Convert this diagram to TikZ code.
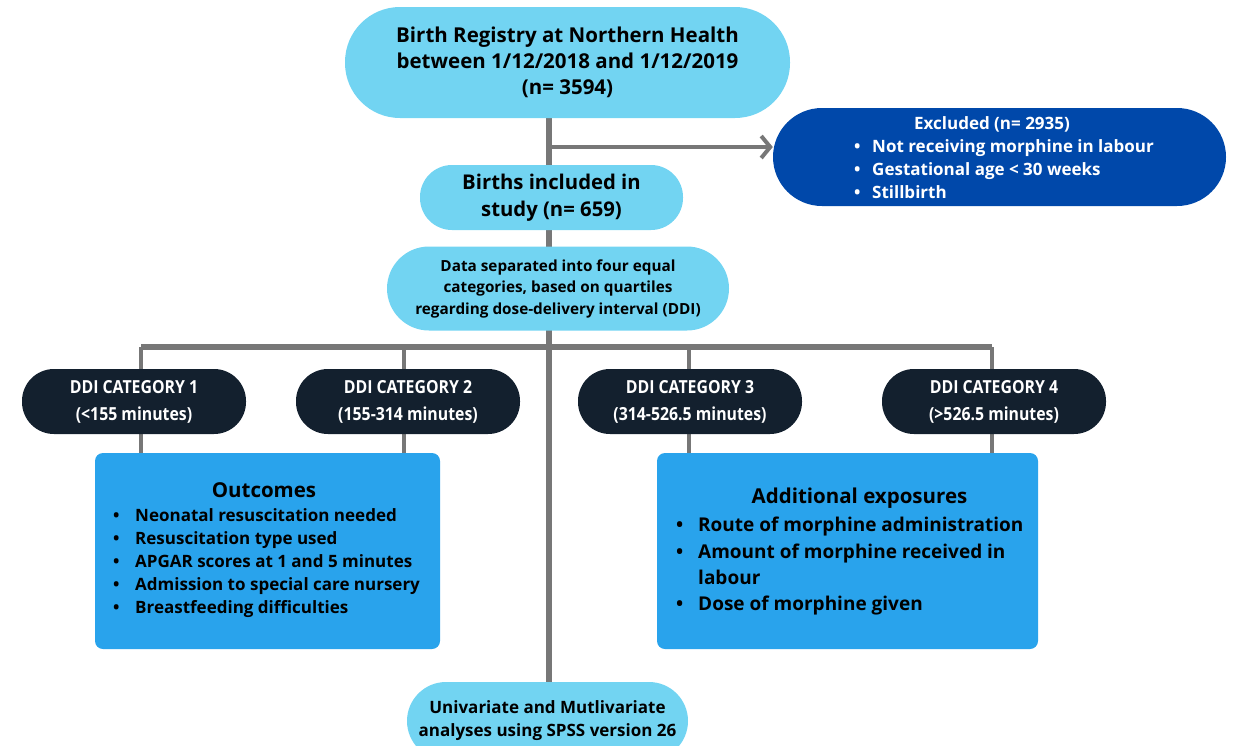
\documentclass[tikz,border=0pt]{standalone}
\usepackage{fontspec}
\setmainfont{Open Sans}
\newfontfamily\condfont[FakeStretch=0.88]{Open Sans}
\usetikzlibrary{arrows.meta}
\pgfdeclarelayer{background}
\pgfsetlayers{background,main}
\definecolor{lightblue}{HTML}{72D4F2}
\definecolor{midblue}{HTML}{29A3EC}
\definecolor{darkblue}{HTML}{0048AA}
\definecolor{navy}{HTML}{13202E}
\definecolor{linegray}{HTML}{777777}
\tikzset{
  pill/.style={fill=lightblue, draw=none, inner sep=0pt, align=center, text=black},
  catbox/.style={fill=navy, draw=none, inner sep=0pt, minimum width=224pt, minimum height=65pt, rounded corners=32pt, align=center, text=white, font=\condfont\bfseries\fontsize{18}{27}\selectfont},
  infobox/.style={fill=midblue, draw=none, rounded corners=8pt, inner sep=0pt},
  txt/.style={inner sep=0pt, align=left},
  conn/.style={draw=linegray, line width=4pt},
  trunk/.style={draw=linegray, line width=6.5pt},
}
\begin{document}
\begin{tikzpicture}[x=1pt,y=-1pt]
\useasboundingbox (0,0) rectangle (1233,745);
\node[pill, minimum width=445pt, minimum height=111pt, rounded corners=55pt, font=\bfseries\fontsize{20.5}{26}\selectfont] (top) at (567.5,62.5) {Birth Registry at Northern Health\\between 1/12/2018 and 1/12/2019\\(n= 3594)};
\node[pill, minimum width=281pt, minimum height=78pt, rounded corners=39pt, font=\bfseries\fontsize{17}{23}\selectfont] (final) at (547.5,721) {Univariate and Mutlivariate\\analyses using SPSS version 26};
\node[pill, minimum width=263pt, minimum height=65pt, rounded corners=32pt, font=\bfseries\fontsize{20.3}{27}\selectfont] (incl) at (551.5,197.5) {Births included in\\study (n= 659)};
\node[pill, minimum width=342pt, minimum height=84pt, rounded corners=42pt, font=\bfseries\fontsize{15.3}{21.5}\selectfont] (data) at (558,288.5) {Data separated into four equal\\categories, based on quartiles\\regarding dose-delivery interval (DDI)};
\coordinate (j1) at (549,147);
% excluded
\node[fill=darkblue, draw=none, inner sep=0pt, minimum width=453pt, minimum height=98pt, rounded corners=49pt] (excl) at (999.5,157) {};
\node[txt, text=white, font=\bfseries\fontsize{17}{23}\selectfont] (exclh) at (992,124.5) {Excluded (n= 2935)};
\node[txt, text=white, anchor=north west, font=\bfseries\fontsize{17}{22.7}\selectfont] (exclb) at (854,139.5) {\makebox[18pt][l]{•}Not receiving morphine in labour\\\makebox[18pt][l]{•}Gestational age < 30 weeks\\\makebox[18pt][l]{•}Stillbirth};
% categories
\node[catbox] (c1) at (134,401.5) {DDI CATEGORY 1\\(<155 minutes)};
\node[catbox] (c2) at (408,401.5) {DDI CATEGORY 2\\(155-314 minutes)};
\node[catbox] (c3) at (690,401.5) {DDI CATEGORY 3\\(314-526.5 minutes)};
\node[catbox] (c4) at (994,401.5) {DDI CATEGORY 4\\(>526.5 minutes)};
\coordinate (b1) at (141,347);
\coordinate (b2) at (404,347);
\coordinate (b3) at (689,347);
\coordinate (b4) at (992,347);
% info boxes
\node[infobox, minimum width=345pt, minimum height=196pt] (outc) at (267.5,551) {};
\node[infobox, minimum width=381pt, minimum height=196pt] (expo) at (847.5,551) {};
\node[txt, font=\bfseries\fontsize{20.5}{23}\selectfont] (outh) at (264,490) {Outcomes};
\node[txt, anchor=north west, font=\bfseries\fontsize{17}{23}\selectfont] (outb) at (113,508) {\makebox[22pt][l]{•}Neonatal resuscitation needed\\\makebox[22pt][l]{•}Resuscitation type used\\\makebox[22pt][l]{•}APGAR scores at 1 and 5 minutes\\\makebox[22pt][l]{•}Admission to special care nursery\\\makebox[22pt][l]{•}Breastfeeding difficulties};
\node[txt, font=\bfseries\fontsize{20.5}{23}\selectfont] (expoh) at (859.5,498) {Additional exposures};
\node[txt, anchor=north west, font=\bfseries\fontsize{19}{26.3}\selectfont] (expob) at (676,517) {\makebox[22pt][l]{•}Route of morphine administration\\\makebox[22pt][l]{•}Amount of morphine received in\\\hspace*{22pt}labour\\\makebox[22pt][l]{•}Dose of morphine given};
\begin{pgfonlayer}{background}
\path[trunk] (top.south -| j1) -- (final.north -| j1);
\draw[draw=linegray, line width=4pt, -{Straight Barb[length=9pt,width=22pt,line width=4pt]}] (j1) -- (j1 -| excl.west);
\path[draw=linegray, line width=6pt] (b1) -- (b4);
\path[conn] (b1) -- (b1 |- c1.north);
\path[conn] (b2) -- (b2 |- c2.north);
\path[conn] (b3) -- (b3 |- c3.north);
\path[conn] (b4) -- (b4 |- c4.north);
\path[conn] (b1 |- c1.south) -- (b1 |- outc.north);
\path[conn] (b2 |- c2.south) -- (b2 |- outc.north);
\path[conn] (b3 |- c3.south) -- (b3 |- expo.north);
\path[conn] (b4 |- c4.south) -- (b4 |- expo.north);
\end{pgfonlayer}
\end{tikzpicture}
\end{document}
